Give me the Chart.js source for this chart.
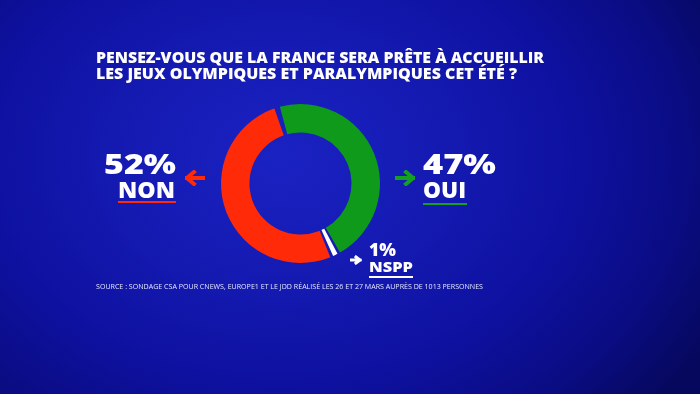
<!DOCTYPE html>
<html>
<head>
<meta charset="utf-8">
<script src="https://cdn.jsdelivr.net/npm/chart.js@4.4.1/dist/chart.umd.min.js"></script>
<style>
  html, body { margin: 0; padding: 0; }
  body {
    width: 700px; height: 394px; overflow: hidden; position: relative;
    background: radial-gradient(ellipse 70% 95% at 40% 40%, #1a22c2 0%, #1419b0 35%, #0e11a0 60%, #0a0c84 82%, #06085e 100%);
    font-family: 'Open Sans', 'Lato', sans-serif;
  }
  #chart { position: absolute; left: 0; top: 0; }
  .t { position: absolute; white-space: nowrap; line-height: 1; color: #fff; transform-origin: 0 0; }
  .line { position: absolute; height: 2px; }
  svg { position: absolute; }
</style>
</head>
<body>
<canvas id="chart" width="700" height="394"></canvas>
<script>
const title = [
    'PENSEZ-VOUS QUE LA FRANCE SERA PRÊTE À ACCUEILLIR',
    'LES JEUX OLYMPIQUES ET PARALYMPIQUES CET ÉTÉ ?'
];
const categories = ['OUI', 'NSPP', 'NON'];
const values = [47, 1, 52];
const sliceColors = ['#0f9a1c', '#ffffff', '#ff2a08'];
const source = 'SOURCE : SONDAGE CSA POUR CNEWS, EUROPE1 ET LE JDD RÉALISÉ LES 26 ET 27 MARS AUPRÈS DE 1013 PERSONNES';

// put a text so its cap top sits at capTop, and squeeze to width w
function place(text, x, capTop, fs, weight, w, color, cap) {
    const d = document.createElement('div');
    d.className = 't';
    d.textContent = text;
    d.style.left = x + 'px';
    d.style.top = (capTop - (cap || 0.22) * fs) + 'px';
    d.style.fontSize = fs + 'px';
    d.style.fontWeight = weight;
    if (color) d.style.color = color;
    document.body.appendChild(d);
    if (w) {
        const real = d.getBoundingClientRect().width;
        d.style.transform = 'scaleX(' + (w / real) + ')';
    }
    return d;
}

function underline(x1, x2, y, color) {
    const l = document.createElement('div');
    l.className = 'line';
    l.style.left = x1 + 'px';
    l.style.width = (x2 - x1) + 'px';
    l.style.top = y + 'px';
    l.style.background = color;
    document.body.appendChild(l);
}

function arrow(x, y, w, h, color, left) {
    const ns = 'http://www.w3.org/2000/svg';
    const s = document.createElementNS(ns, 'svg');
    s.setAttribute('width', w);
    s.setAttribute('height', h);
    s.style.left = x + 'px';
    s.style.top = (y - h / 2) + 'px';
    const p = document.createElementNS(ns, 'path');
    const m = h / 2;
    let dd;
    if (left) dd = 'M' + (w - 1) + ' ' + m + ' L2 ' + m + ' M' + (m + 1) + ' 2 L2 ' + m + ' L' + (m + 1) + ' ' + (h - 2);
    else dd = 'M1 ' + m + ' L' + (w - 2) + ' ' + m + ' M' + (w - m - 1) + ' 2 L' + (w - 2) + ' ' + m + ' L' + (w - m - 1) + ' ' + (h - 2);
    p.setAttribute('d', dd);
    p.setAttribute('stroke', color);
    p.setAttribute('stroke-width', h > 12 ? 4 : 3);
    p.setAttribute('fill', 'none');
    p.setAttribute('stroke-linecap', 'square');
    s.appendChild(p);
    document.body.appendChild(s);
}

const ctx = document.getElementById('chart').getContext('2d');
new Chart(ctx, {
    type: 'doughnut',
    data: {
        labels: categories,
        datasets: [{
            data: values,
            backgroundColor: sliceColors,
            borderWidth: 0,
            spacing: 3,
            hoverOffset: 0
        }]
    },
    options: {
        responsive: false,
        animation: false,
        rotation: -17,
        cutout: '63.5%',
        layout: { padding: { left: 221, right: 700 - 380, top: 104, bottom: 394 - 263 } },
        plugins: { legend: { display: false }, tooltip: { enabled: false } }
    }
});

place(title[0], 96, 53, 15.5, 800, 448);
place(title[1], 96, 69, 15.5, 800, 421);

// NON
place(values[2] + '%', 104, 155, 28, 800, 72);
place(categories[2], 118, 183, 22, 800, 57);
underline(118, 176, 201, sliceColors[2]);
arrow(185, 178, 20, 16, sliceColors[2], true);

// OUI
place(values[0] + '%', 423, 155, 28, 800, 73);
place(categories[0], 423, 183, 22, 800, 43);
underline(423, 467, 203, '#14a020');
arrow(395, 178, 20, 16, '#14a020', false);

// NSPP
place(values[1] + '%', 369, 245, 17, 800, 27);
place(categories[1], 369, 263, 14, 800, 44);
underline(369, 413, 276, '#ffffff');
arrow(350, 260, 12, 10, '#ffffff', false);

place(source, 96, 285, 7.5, 400, 387, '#e4e8ff');
</script>
</body>
</html>
